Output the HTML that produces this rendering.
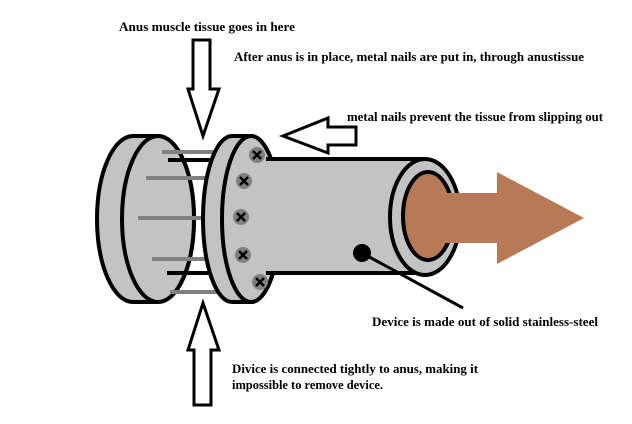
<!DOCTYPE html>
<html><head><meta charset="utf-8"><style>
html,body{margin:0;padding:0;background:#fff;}
svg{display:block}
text{font-family:"Liberation Serif",serif;font-weight:bold;font-size:13px;fill:#000}
</style></head><body>
<svg width="632" height="424" viewBox="0 0 632 424" xmlns="http://www.w3.org/2000/svg">
<rect width="632" height="424" fill="#fff"/>
<!-- left disc -->
<path d="M133,136 L158,136 A36,83 0 0 1 158,302 L133,302 A36,83 0 0 1 133,136 Z" fill="#c3c3c3" stroke="#000" stroke-width="4"/>
<ellipse cx="158" cy="219" rx="36" ry="83" fill="#c3c3c3" stroke="#000" stroke-width="4"/>
<!-- nails behind -->
<g stroke="#808080" stroke-width="4">
<line x1="162" y1="152" x2="218" y2="152"/>
<line x1="146" y1="178" x2="208" y2="178"/>
<line x1="138" y1="218" x2="205" y2="218"/>
<line x1="152" y1="259" x2="208" y2="259"/>
<line x1="170" y1="292" x2="222" y2="292"/>
</g>
<g stroke="#000" stroke-width="4">
<line x1="168" y1="160" x2="215" y2="160"/>
<line x1="167" y1="273" x2="212" y2="273"/>
</g>
<!-- middle flange -->
<path d="M232,136 L251,136 A29,83 0 0 1 251,302 L232,302 A29,83 0 0 1 232,136 Z" fill="#c3c3c3" stroke="#000" stroke-width="4"/>
<ellipse cx="251" cy="219" rx="29" ry="83" fill="#c3c3c3" stroke="#000" stroke-width="4"/>
<!-- tube -->
<rect x="266" y="160" width="160" height="113" fill="#c3c3c3"/>
<line x1="266" y1="159" x2="426" y2="159" stroke="#000" stroke-width="4"/>
<line x1="266" y1="273" x2="426" y2="273" stroke="#000" stroke-width="4"/>
<ellipse cx="425" cy="217" rx="35" ry="58" fill="#c3c3c3" stroke="#000" stroke-width="4"/>
<ellipse cx="428" cy="216" rx="25" ry="44" fill="#b87a56" stroke="#000" stroke-width="4"/>
<!-- arrow -->
<polygon points="440,193 497,193 497,172 584,218 497,264 497,243 440,243" fill="#b87a56"/>
<ellipse cx="428" cy="216" rx="25" ry="44" fill="#b87a56" stroke="none" clip-path="none" opacity="0"/>
<!-- screws -->
<g>
<g transform="translate(257,155)"><circle r="8" fill="#808080"/><path d="M-4,-4L4,4M4,-4L-4,4" stroke="#000" stroke-width="2.5"/></g>
<g transform="translate(244,181)"><circle r="8" fill="#808080"/><path d="M-4,-4L4,4M4,-4L-4,4" stroke="#000" stroke-width="2.5"/></g>
<g transform="translate(241,217)"><circle r="8" fill="#808080"/><path d="M-4,-4L4,4M4,-4L-4,4" stroke="#000" stroke-width="2.5"/></g>
<g transform="translate(243,255)"><circle r="8" fill="#808080"/><path d="M-4,-4L4,4M4,-4L-4,4" stroke="#000" stroke-width="2.5"/></g>
<g transform="translate(260,282)"><circle r="8" fill="#808080"/><path d="M-4,-4L4,4M4,-4L-4,4" stroke="#000" stroke-width="2.5"/></g>
</g>
<!-- dot and pointer -->
<circle cx="362" cy="253" r="9" fill="#000"/>
<line x1="362" y1="253" x2="463" y2="308" stroke="#000" stroke-width="3"/>
<!-- down arrow -->
<polygon points="193,40 210,40 210,89 219,89 203,136 188,89 193,89" fill="#fff" stroke="#000" stroke-width="3"/>
<!-- up arrow -->
<polygon points="203,303 219,350 211,350 211,405 194,405 194,350 188,350" fill="#fff" stroke="#000" stroke-width="3"/>
<!-- left arrow -->
<polygon points="283,136 328,118 328,127 356,127 356,145 328,145 328,153" fill="#fff" stroke="#000" stroke-width="3"/>
<!-- labels -->
<text x="119" y="31" textLength="176" lengthAdjust="spacingAndGlyphs">Anus muscle tissue goes in here</text>
<text x="234" y="61" textLength="350" lengthAdjust="spacingAndGlyphs">After anus is in place, metal nails are put in, through anustissue</text>
<text x="347" y="121" textLength="256" lengthAdjust="spacingAndGlyphs">metal nails prevent the tissue from slipping out</text>
<text x="372" y="326" textLength="226" lengthAdjust="spacingAndGlyphs">Device is made out of solid stainless-steel</text>
<text x="232" y="373" textLength="246" lengthAdjust="spacingAndGlyphs">Divice is connected tightly to anus, making it</text>
<text x="232" y="389" textLength="151" lengthAdjust="spacingAndGlyphs">impossible to remove device.</text>
</svg>
</body></html>
